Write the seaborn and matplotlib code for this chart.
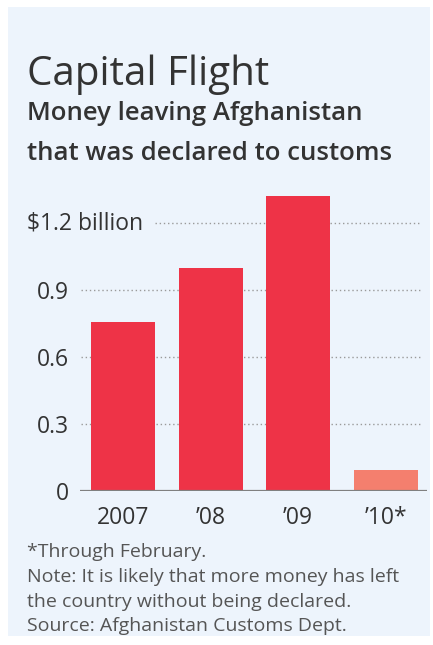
import matplotlib
matplotlib.use("Agg")
import matplotlib.pyplot as plt
import seaborn as sns
import pandas as pd
from matplotlib.patches import Rectangle

categories = ["2007", "\u201908", "\u201909", "\u201910*"]
values = [0.757, 0.996, 1.32, 0.093]
bar_colors = ["#EE3347", "#EE3347", "#EE3347", "#F47F6E"]
ytick_vals = [0, 0.3, 0.6, 0.9]
ytick_labels = ["0", "0.3", "0.6", "0.9"]
top_tick = 1.2
top_label = "$1.2 billion"
title = "Capital Flight"
subtitle1 = "Money leaving Afghanistan"
subtitle2 = "that was declared to customs"
notes = ["*Through February.",
         "Note: It is likely that more money has left",
         "the country without being declared.",
         "Source: Afghanistan Customs Dept."]

sns.set_theme(style="white")
plt.rcParams['font.family'] = ['Open Sans', 'DejaVu Sans']

W, H = 433, 645
fig = plt.figure(figsize=(W / 100, H / 100), dpi=100)
fig.patch.set_facecolor("white")
bg = "#EDF4FC"
fig.patches.append(Rectangle((8 / W, 1 - 636 / H), (430 - 8) / W, (636 - 7) / H,
                             transform=fig.transFigure, facecolor=bg, edgecolor="none", zorder=-10))

ax_left, ax_right = 80, 427
y0_px, per_unit = 490.7, 223.3
ymax = 1.35
ax = fig.add_axes([ax_left / W, (H - y0_px) / H, (ax_right - ax_left) / W, ymax * per_unit / H])
ax.set_facecolor("none")
ax.set_zorder(5)

df = pd.DataFrame({"cat": categories, "val": values})
sns.barplot(data=df, x="cat", y="val", hue="cat", palette=bar_colors, legend=False,
            width=0.73, saturation=1, linewidth=0, ax=ax, zorder=3)

ax.set_xlim(-0.49, 3.47)
ax.set_ylim(0, ymax)
for s in ax.spines.values():
    s.set_visible(False)

grid_color = "#9a9a9a"
for v in ytick_vals[1:]:
    ax.axhline(v, xmin=(81 - ax_left) / (ax_right - ax_left), xmax=(421 - ax_left) / (ax_right - ax_left),
               color=grid_color, linestyle=(0, (1, 2)), linewidth=1, zorder=1)
ax.axhline(top_tick, xmin=(155 - ax_left) / (ax_right - ax_left), xmax=(421 - ax_left) / (ax_right - ax_left),
           color=grid_color, linestyle=(0, (1, 2)), linewidth=1, zorder=1)
ax.axhline(0, color="#808080", linewidth=1.6, zorder=4)

ax.set_yticks(ytick_vals)
ax.set_yticklabels(ytick_labels)
ax.tick_params(axis="y", length=0, pad=8, labelsize=16.5, labelcolor="#333333")
ax.tick_params(axis="x", length=0, pad=11, labelsize=16.5, labelcolor="#333333")
ax.set_xlabel("")
ax.set_ylabel("")

fig.text(27 / W, 1 - (223.3) / H, top_label, ha="left", va="center", fontsize=16.5, color="#333333")

fig.text(27 / W, 1 - 85 / H, title, ha="left", va="baseline", fontsize=29, color="#333333", fontweight="medium")
fig.text(27 / W, 1 - 120 / H, subtitle1, ha="left", va="baseline", fontsize=18.5, color="#333333", fontweight="semibold")
fig.text(27 / W, 1 - 160.5 / H, subtitle2, ha="left", va="baseline", fontsize=18.5, color="#333333", fontweight="semibold")

note_baselines = [557, 582, 607, 631]
for t, b in zip(notes, note_baselines):
    fig.text(27 / W, 1 - b / H, t, ha="left", va="baseline", fontsize=14, color="#555555")

fig.savefig("out.png", dpi=100, facecolor=fig.get_facecolor())
